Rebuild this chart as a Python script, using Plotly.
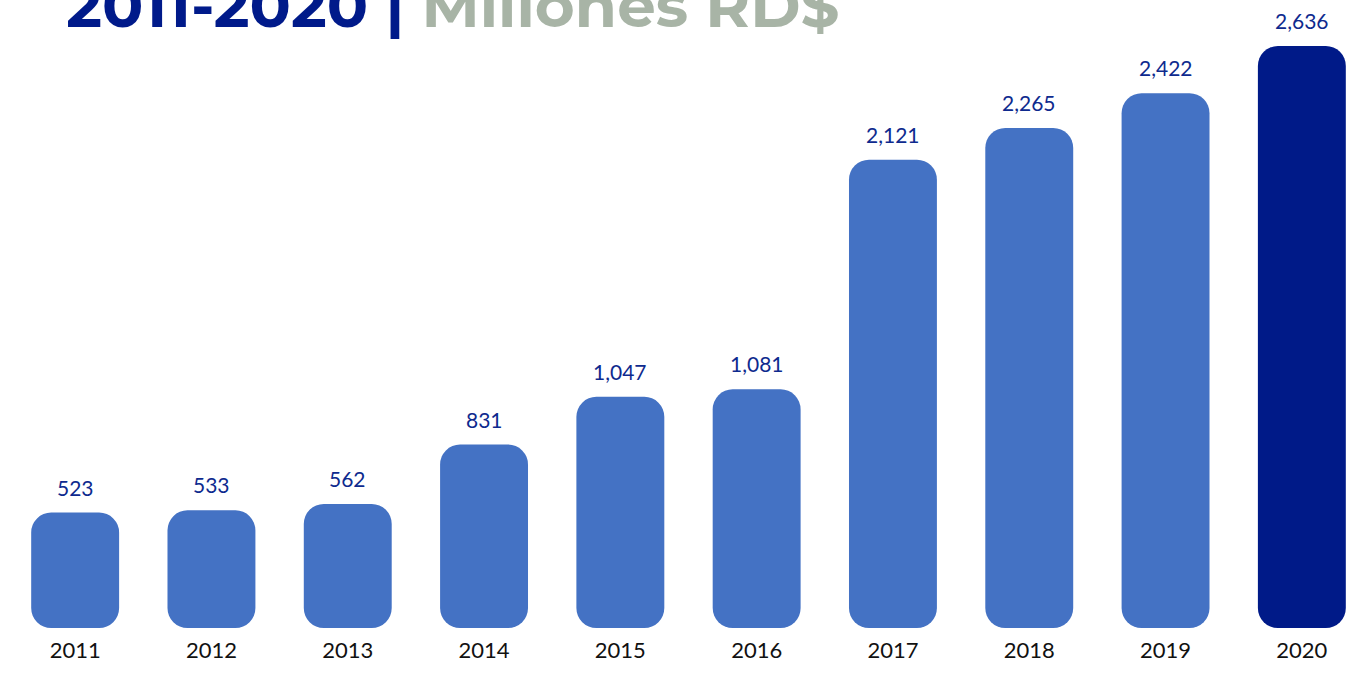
import plotly.graph_objects as go

years = ["2011", "2012", "2013", "2014", "2015", "2016", "2017", "2018", "2019", "2020"]
values = [523, 533, 562, 831, 1047, 1081, 2121, 2265, 2422, 2636]
title_left = "2011-2020"
title_right = "Millones RD$"

BAR = "#4472C4"
HIGHLIGHT = "#001A88"
LABEL = "#0E2A8E"
colors = [HIGHLIGHT if y == "2020" else BAR for y in years]

fig = go.Figure()
fig.add_trace(go.Bar(
    x=years, y=values, base=[0] * len(values),
    marker=dict(color=colors, line=dict(width=0), cornerradius=20),
    hovertemplate="%{x}: %{y:,}<extra></extra>",
    showlegend=False,
))

for i, v in enumerate(values):
    fig.add_annotation(
        x=i, y=v, text=f"{v:,}", showarrow=False, yanchor="bottom", yshift=11,
        font=dict(family="Lato", size=21, color=LABEL),
    )

fig.add_annotation(
    xref="paper", yref="paper", x=0.0415, y=1 - 44 / 628, xanchor="left", yanchor="bottom",
    text=(f"<b><span style='color:#001A8A'>{title_left} | </span>"
          f"<span style='color:#A8B4A6'>{title_right}</span></b>"),
    showarrow=False, font=dict(family="Montserrat, Open Sans", size=61),
)

fig.update_layout(
    width=1372, height=676,
    margin=dict(l=7, r=2, t=0, b=48),
    paper_bgcolor="white", plot_bgcolor="white",
    bargap=0.355,
    xaxis=dict(type="category", range=[-0.5, 9.5], showgrid=False, zeroline=False, showline=False,
               ticks="outside", ticklen=3, tickcolor="rgba(0,0,0,0)",
               tickfont=dict(family="Lato", size=22, color="#111111")),
    yaxis=dict(range=[0, 628 / 0.2208], visible=False, showgrid=False, zeroline=False),
)

fig.write_html("out.html", config={"displayModeBar": False},
               post_script="document.body.style.margin='0';")
